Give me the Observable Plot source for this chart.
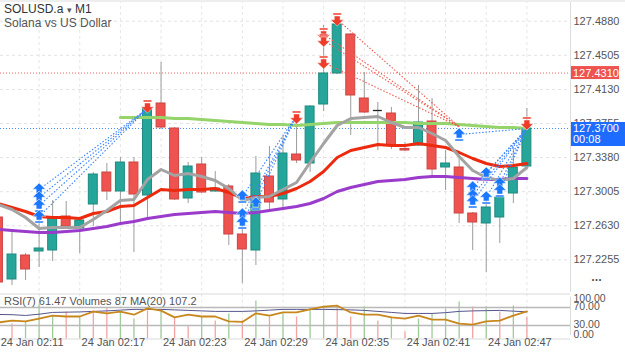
<!DOCTYPE html>
<html><head><meta charset="utf-8">
<script src="https://cdn.jsdelivr.net/npm/d3@7"></script>
<script src="https://cdn.jsdelivr.net/npm/@observablehq/plot@0.6"></script>
<style>
body{margin:0;background:#fff;}
#wrap{position:relative;width:625px;height:352px;overflow:hidden;font-family:"Liberation Sans",Arial,sans-serif;background:#fff;}
#wrap > svg, #wrap > div{position:absolute;left:0;}
</style></head><body><div id="wrap"></div>
<script>
// ---------- DATA ----------
const symbolName = "SOLUSD.a";
const timeframe = "M1";
const symbolDesc = "Solana vs US Dollar";
const candleIdx = d3.range(-1, 39);
const opens  = [127.2721,127.2039,127.2303,127.2347,127.2358,127.2732,127.2600,127.2864,127.3216,127.3007,127.3326,127.2963,127.3975,127.3700,127.2930,127.3304,127.3007,127.3062,127.2534,127.2358,127.3172,127.2919,127.3414,127.3315,127.3964,127.4305,127.4734,127.4030,127.3898,127.3865,127.3475,127.3513,127.3777,127.3271,127.3271,127.2765,127.2655,127.2721,127.2985,127.3282];
const highs  = [127.2776,127.2556,127.2325,127.2710,127.2908,127.2897,127.2710,127.3216,127.3315,127.3381,127.3381,127.3953,127.4426,127.3711,127.3326,127.3381,127.3227,127.3084,127.2622,127.3392,127.3502,127.3612,127.3843,127.3953,127.4833,127.4866,127.4745,127.4316,127.3986,127.3931,127.3546,127.4173,127.4030,127.3458,127.3403,127.2776,127.2908,127.2952,127.3491,127.3920];
const lows   = [127.1973,127.1973,127.2028,127.2171,127.2237,127.2600,127.2325,127.2622,127.2908,127.2666,127.2336,127.2688,127.3689,127.2908,127.2875,127.2985,127.2996,127.2413,127.1995,127.2193,127.2798,127.2831,127.3315,127.3216,127.3887,127.4294,127.3623,127.3865,127.3458,127.3469,127.3447,127.3502,127.3183,127.3018,127.2655,127.2358,127.2116,127.2435,127.2875,127.3271];
const closes = [127.2006,127.2314,127.2149,127.2380,127.2710,127.2622,127.2688,127.3194,127.3007,127.3326,127.2974,127.3920,127.3711,127.2919,127.3282,127.2996,127.3040,127.2534,127.2369,127.3205,127.2886,127.3425,127.3348,127.3942,127.4305,127.4844,127.4063,127.3876,127.3898,127.3513,127.3458,127.3766,127.3249,127.3315,127.2765,127.2666,127.2831,127.2941,127.3271,127.3700];
const maFast = [127.2864,127.2809,127.2721,127.2600,127.2611,127.2611,127.2611,127.2699,127.2798,127.2908,127.2919,127.3139,127.3249,127.3183,127.3205,127.3172,127.3128,127.3040,127.2908,127.2941,127.2952,127.3029,127.3106,127.3326,127.3535,127.3733,127.3810,127.3821,127.3832,127.3766,127.3711,127.3711,127.3645,127.3568,127.3392,127.3238,127.3161,127.3128,127.3150,127.3271];
const maMid  = [127.2875,127.2831,127.2787,127.2732,127.2721,127.2721,127.2710,127.2765,127.2787,127.2842,127.2853,127.2941,127.3029,127.3018,127.3029,127.3029,127.3040,127.2996,127.2930,127.2952,127.2952,127.2985,127.3040,127.3117,127.3227,127.3381,127.3458,127.3491,127.3524,127.3513,127.3513,127.3535,127.3513,127.3491,127.3436,127.3370,127.3315,127.3282,127.3293,127.3315];
const maSlow = [127.2589,127.2578,127.2567,127.2556,127.2556,127.2567,127.2578,127.2600,127.2622,127.2655,127.2677,127.2710,127.2732,127.2754,127.2765,127.2776,127.2787,127.2776,127.2765,127.2776,127.2798,127.2820,127.2842,127.2875,127.2930,127.3007,127.3051,127.3084,127.3117,127.3128,127.3139,127.3161,127.3172,127.3172,127.3161,127.3150,127.3139,127.3139,127.3150,127.3150];
const maLongIdx = d3.range(8, 39);
const maLong = [127.3821,127.3821,127.3821,127.3821,127.3810,127.3810,127.3799,127.3788,127.3777,127.3766,127.3755,127.3744,127.3744,127.3733,127.3744,127.3755,127.3766,127.3766,127.3766,127.3766,127.3766,127.3766,127.3755,127.3755,127.3755,127.3744,127.3733,127.3722,127.3711,127.3711,127.3700];
const priceTicks = [127.4880,127.4505,127.4130,127.3755,127.3380,127.3005,127.2630,127.2255];
const gridIdx = [2,5,8,11,14,17,20,23,26,29,32,35,38];
const timeIdx = [2,8,14,20,26,32,38];
const timeLabels = ["24 Jan 02:11","24 Jan 02:17","24 Jan 02:23","24 Jan 02:29","24 Jan 02:35","24 Jan 02:41","24 Jan 02:47"];
const lastPrice = 127.3700;
const timerText = "00:08";
const alertPrice = 127.4310;
// trades: entry arrows and exits
const buyIdx   = [2,2,2,2,17,17,17,18,33,34,34,34,35,35,36,36];
const buyPrice = [127.3029,127.2941,127.2853,127.2732,127.2952,127.2754,127.2666,127.2875,127.3634,127.3051,127.2963,127.2897,127.3205,127.2941,127.3095,127.3018];
const buyExitIdx   = [10,10,10,10,21,21,21,21,38,38,38,38,38,38,38,38];
const buyExitPrice = [127.3920,127.3920,127.3920,127.3920,127.3843,127.3843,127.3843,127.3843,127.3700,127.3700,127.3700,127.3700,127.3700,127.3700,127.3700,127.3700];
const sellIdx   = [10,21,23,23,23,24,38];
const sellPrice = [127.3942,127.3821,127.4734,127.4668,127.4426,127.4899,127.3755];
const sellTradeIdx   = [23,23,23,24];
const sellTradePrice = [127.4734,127.4668,127.4426,127.4899];
const sellExitIdx   = [33,33,33,33];
const sellExitPrice = [127.3720,127.3720,127.3720,127.3720];
// lower panel
const rsiValues = [36.7,41,39,45.5,52,50,50,61,57,61,54,68,63,48,54,50,50,39,38,57,52,59,59,66,72,74,59,54,54,48,45.5,52,43,43,34,32,39,41,52,61.47];
const volIdx = d3.range(0, 39);
const volumes = [59,67,138,87,107,87,111,119,107,79,111,111,87,51,87,71,99,71,150,87,99,87,119,130,126,87,126,71,87,28,79,99,119,146,126,126,107,130,87];
const volUp   = [0,1,1,1,0,1,0,0,1,1,0,1,0,0,1,0,1,0,1,0,1,0,1,1,0,0,1,0,1,0,1,1,1,1,0,1,0,1,0];
const volMA = [97,96,93,98,105,106,107,109,111,114,117,117,117,115,113,111,109,109,109,111,114,117,117,117,117,116,115,113,109,105,101,101,101,104,109,111,112,113,110,107.2];
const rsiLevels = [100,70,30,0];
const rsiLabel = `RSI(7) ${rsiValues[rsiValues.length-1].toFixed(2)} Volumes ${volumes[volumes.length-1]} MA(20) ${volMA[volMA.length-1].toFixed(1)}`;

// ---------- BUILD ----------
const FONT = "Liberation Sans, Arial, sans-serif";
const candles = candleIdx.map((i,k)=>({i, open:opens[k], high:highs[k], low:lows[k], close:closes[k]}));
const dir = d => d.close > d.open ? "up" : d.close < d.open ? "down" : "flat";
const bodyFill = {up:"#26a69a", down:"#ef5350", flat:"#222"};
const bodyStroke = {up:"#1c8a7f", down:"#cc4440", flat:"#222"};
const bodies = candles.filter(d => dir(d) !== "flat");
const dojis = candles.filter(d => dir(d) === "flat");
const series = (vals, ids) => vals.map((v,k)=>({i: ids[k], v}));
const buys = buyIdx.map((i,k)=>({i, p: buyPrice[k]}));
const sells = sellIdx.map((i,k)=>({i, p: sellPrice[k]}));
const buyLinks = buyIdx.map((i,k)=>({i1:i, p1:buyPrice[k], i2:buyExitIdx[k], p2:buyExitPrice[k]}));
const sellLinks = sellTradeIdx.map((i,k)=>({i1:i, p1:sellTradePrice[k], i2:sellExitIdx[k], p2:sellExitPrice[k]}));
const HALF = 0.33;

const arrowUp = {draw(ctx, size){
  const r = Math.sqrt(size/Math.PI);
  ctx.moveTo(0,-r); ctx.lineTo(r,-0.05*r); ctx.lineTo(0.45*r,-0.05*r); ctx.lineTo(0.45*r,0.55*r);
  ctx.lineTo(-0.45*r,0.55*r); ctx.lineTo(-0.45*r,-0.05*r); ctx.lineTo(-r,-0.05*r); ctx.closePath();
  ctx.moveTo(-0.65*r,0.7*r); ctx.lineTo(0.65*r,0.7*r); ctx.lineTo(0.65*r,r); ctx.lineTo(-0.65*r,r); ctx.closePath();
}};
const arrowDown = {draw(ctx, size){
  const r = Math.sqrt(size/Math.PI);
  ctx.moveTo(0,r); ctx.lineTo(r,0.05*r); ctx.lineTo(0.45*r,0.05*r); ctx.lineTo(0.45*r,-0.55*r);
  ctx.lineTo(-0.45*r,-0.55*r); ctx.lineTo(-0.45*r,0.05*r); ctx.lineTo(-r,0.05*r); ctx.closePath();
  ctx.moveTo(-0.65*r,-0.7*r); ctx.lineTo(0.65*r,-0.7*r); ctx.lineTo(0.65*r,-r); ctx.lineTo(-0.65*r,-r); ctx.closePath();
}};

const xDomain = [-0.8487, 41.218];
const wrap = document.getElementById("wrap");

const main = Plot.plot({
  width: 625, height: 292, marginLeft: 0, marginRight: 55, marginTop: 0, marginBottom: 0,
  x: {domain: xDomain, axis: null},
  y: {domain: [127.1896, 127.5108], axis: null},
  style: {background: "transparent", overflow: "visible", fontFamily: FONT},
  marks: [
    Plot.ruleY(priceTicks, {stroke: "#e2e2e2", strokeDasharray: "3,3"}),
    Plot.ruleX(gridIdx, {stroke: "#e6e6e6", strokeDasharray: "3,3"}),
    Plot.ruleY([alertPrice], {stroke: "#f06262", strokeDasharray: "1,2"}),
    Plot.ruleY([lastPrice], {stroke: "#4a8cff", strokeDasharray: "1,2"}),
    Plot.ruleX(candles, {x: "i", y1: "low", y2: "high", stroke: "#9c9c9c"}),
    Plot.rect(bodies, {x1: d => d.i - HALF, x2: d => d.i + HALF, y1: "open", y2: "close",
      fill: d => bodyFill[dir(d)], stroke: d => bodyStroke[dir(d)], strokeWidth: 1}),
    Plot.ruleY(dojis, {x1: d => d.i - HALF, x2: d => d.i + HALF, y: "close", stroke: "#222", strokeWidth: 1.3}),
    Plot.line(series(maSlow, candleIdx), {x: "i", y: "v", stroke: "#9b3bcb", strokeWidth: 3, strokeLinejoin: "round"}),
    Plot.line(series(maLong, maLongIdx), {x: "i", y: "v", stroke: "#95d46a", strokeWidth: 3, strokeLinejoin: "round"}),
    Plot.line(series(maMid, candleIdx), {x: "i", y: "v", stroke: "#ee2a0e", strokeWidth: 3, strokeLinejoin: "round"}),
    Plot.line(series(maFast, candleIdx), {x: "i", y: "v", stroke: "#a3a3a3", strokeWidth: 3, strokeLinejoin: "round"}),
    Plot.link(buyLinks, {x1: "i1", y1: "p1", x2: "i2", y2: "p2", stroke: "#3a84ff", strokeWidth: 1.1, strokeDasharray: "1.5,1.8"}),
    Plot.link(sellLinks, {x1: "i1", y1: "p1", x2: "i2", y2: "p2", stroke: "#f05a50", strokeWidth: 1.1, strokeDasharray: "1.5,1.8"}),
    Plot.dot(buys, {x: "i", y: "p", symbol: arrowUp, r: 6.5, fill: "#1a77ff", stroke: "#fff", strokeWidth: 0.5}),
    Plot.dot(sells, {x: "i", y: "p", symbol: arrowDown, r: 6.5, fill: "#ee3b2a", stroke: "#fff", strokeWidth: 0.5}),
    Plot.ruleX([xDomain[1]], {stroke: "#dcdcdc"}),
    Plot.text(priceTicks, {y: d => d, text: d => d.toFixed(4), frameAnchor: "right", textAnchor: "start", dx: 3, fill: "#555", fontSize: 11})
  ]
});
main.style.top = "0px";
wrap.appendChild(main);

// price label boxes via the y scale
const ys = main.scale("y");
const yOf = v => ys.apply ? ys.apply(v) : (ys.range[0] + (v - ys.domain[0]) / (ys.domain[1] - ys.domain[0]) * (ys.range[1] - ys.range[0]));
const msvg = d3.select(main);
{
  const g = msvg.append("g").attr("text-anchor", "start").attr("font-family", FONT).attr("font-size", 11);
  const y = yOf(alertPrice);
  g.append("rect").attr("x", 571).attr("y", y - 6.5).attr("width", 48).attr("height", 13).attr("fill", "#ef5350");
  g.append("text").attr("x", 573).attr("y", y).attr("dy", "0.36em").attr("fill", "#fff").text(alertPrice.toFixed(4));
  const yb = yOf(lastPrice);
  g.append("rect").attr("x", 571).attr("y", yb - 6).attr("width", 54).attr("height", 24).attr("fill", "#1e6cff");
  g.append("text").attr("x", 573).attr("y", yb).attr("dy", "0.36em").attr("fill", "#fff").text(lastPrice.toFixed(4));
  g.append("text").attr("x", 573).attr("y", yb + 11).attr("dy", "0.36em").attr("fill", "#fff").text(timerText);
  g.append("text").attr("x", 597).attr("y", 279).attr("dy", "0.36em").attr("text-anchor", "middle")
    .attr("fill", "#444").attr("font-size", 7).attr("letter-spacing", "1px").text("\u2022\u2022\u2022");
}

// volume overlay (own scale)
const volChart = Plot.plot({
  width: 625, height: 60, marginLeft: 0, marginRight: 55, marginTop: 1.5, marginBottom: 13.5,
  x: {domain: xDomain, axis: null},
  y: {domain: [0, 177.75], axis: null},
  style: {background: "transparent", overflow: "visible"},
  marks: [
    Plot.ruleX(gridIdx, {stroke: "#e6e6e6", strokeDasharray: "3,3", y1: 0, y2: 177.75}),
    Plot.ruleX(volIdx.map((i,k)=>({i, v: volumes[k], up: volUp[k]})), {x: "i", y1: 0, y2: "v",
      stroke: d => d.up ? "#9fcb98" : "#f4a3a3", strokeWidth: 1.3}),
    Plot.line(series(volMA, candleIdx), {x: "i", y: "v", stroke: "#55558f", strokeWidth: 1})
  ]
});
volChart.style.top = "292px";
wrap.appendChild(volChart);

const rsiChart = Plot.plot({
  width: 625, height: 60, marginLeft: 0, marginRight: 55, marginTop: 1.5, marginBottom: 13.5,
  x: {domain: xDomain, axis: null},
  y: {domain: [0, 100], axis: null},
  style: {background: "transparent", overflow: "visible", fontFamily: FONT},
  marks: [
    Plot.ruleY([0, 100], {stroke: "#dadada"}),
    Plot.ruleY([30, 70], {stroke: "#b9b9b9", strokeWidth: 1.5}),
    Plot.line(series(rsiValues, candleIdx), {x: "i", y: "v", stroke: "#c8871c", strokeWidth: 1.8, strokeLinejoin: "round"}),
    Plot.ruleX([xDomain[1]], {y1: 0, y2: 100, insetTop: -4, insetBottom: -3, stroke: "#dcdcdc"}),
    Plot.text([rsiLevels[0]], {y: d => d, text: d => d.toFixed(2), frameAnchor: "right", textAnchor: "start", lineAnchor: "top", dx: 3, dy: 0.5, fill: "#555", fontSize: 10.5}),
    Plot.text(rsiLevels.slice(1, 3), {y: d => d, text: d => d.toFixed(2), frameAnchor: "right", textAnchor: "start", lineAnchor: "middle", dx: 3, dy: -1, fill: "#555", fontSize: 10.5}),
    Plot.text([rsiLevels[3]], {y: d => d, text: d => d.toFixed(2), frameAnchor: "right", textAnchor: "start", lineAnchor: "bottom", dx: 3, dy: -1, fill: "#555", fontSize: 10.5}),
    Plot.text(timeIdx.map((i,k)=>({i, t: timeLabels[k]})), {x: "i", text: "t", frameAnchor: "bottom", dy: 7, dx: -7, fill: "#555", fontSize: 11})
  ]
});
rsiChart.style.top = "292px";
wrap.appendChild(rsiChart);

// texts
const topBar = document.createElement("div");
topBar.style.cssText = "top:0;width:625px;height:2px;background:#eeeeee;";
wrap.appendChild(topBar);
const title = document.createElement("div");
title.style.cssText = "top:3px;left:4px;font-size:12px;line-height:13px;color:#333;white-space:nowrap;";
title.innerHTML = `${symbolName} <span style="font-size:9px;color:#555">\u25BE</span> ${timeframe}<br><span style="color:#555">${symbolDesc}</span>`;
wrap.appendChild(title);
const rsiTitle = document.createElement("div");
rsiTitle.style.cssText = "top:295px;left:4px;font-size:11px;line-height:12px;color:#555;white-space:nowrap;";
rsiTitle.textContent = rsiLabel;
wrap.appendChild(rsiTitle);
</script></body></html>
